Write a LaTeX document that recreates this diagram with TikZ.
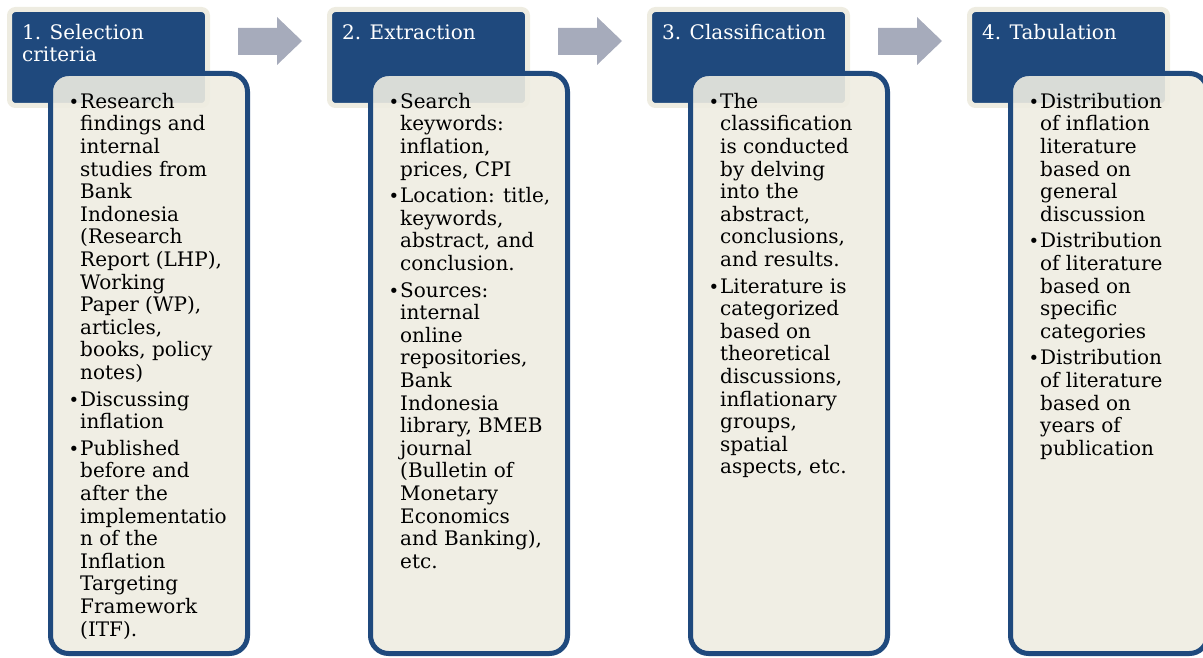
\documentclass[tikz,border=0pt]{standalone}
\usepackage{fontspec}
\setmainfont{DejaVu Serif}
\usepackage{xcolor}
\usetikzlibrary{positioning}

\definecolor{stageblue}{RGB}{31,73,125}
\definecolor{paper}{RGB}{238,236,225}
\definecolor{arrowgray}{RGB}{166,171,187}

% bullet and hanging indent for the step lists
\newcommand{\itm}{\makebox[9pt][l]{\kern-2.5pt\fontsize{18}{18}\selectfont\textbullet}}
\newcommand{\cnt}{\hspace*{9pt}}

\begin{document}
\begin{tikzpicture}[
    x=1pt, y=-1pt,
    headbox/.style={draw=paper, line width=5pt, fill=stageblue, rounded corners=6pt, minimum width=198pt, minimum height=96pt, inner sep=0pt},
    bodybox/.style={draw=stageblue, line width=5pt, fill=paper, fill opacity=0.9, rounded corners=18pt, minimum width=197pt, minimum height=580pt, inner sep=0pt},
    headtext/.style={text=white, align=left, anchor=north west, inner sep=0pt, font=\fontsize{20}{22.6}\selectfont},
    bodytext/.style={text=black, align=left, anchor=north west, inner sep=0pt, font=\fontsize{20}{22.6}\selectfont},
    steparrow/.style={fill=arrowgray}
]
\clip (0,0) rectangle (1203,658);

% step headers
\node[headbox] (sel) at (108.5,57.5) {};
\node[headbox] (ext) at (428.5,57.5) {};
\node[headbox] (cls) at (748.5,57.5) {};
\node[headbox] (tab) at (1068.5,57.5) {};

% block arrows between the headers
\foreach \dx in {0,320,640}
  \fill[steparrow, shift={(\dx,0)}] (238,28) -- (277,28) -- (277,17) -- (302,41) -- (277,65) -- (277,55) -- (238,55) -- cycle;

% detail panels
\node[bodybox] (selbody) at (149,363.5) {};
\node[bodybox] (extbody) at (469,363.5) {};
\node[bodybox] (clsbody) at (789,363.5) {};
\node[bodybox] (tabbody) at (1109,363.5) {};

\node[headtext] (seltitle) at (22,23.2) {\strut 1. Selection\\criteria};
\node[headtext] (exttitle) at (342,23.2) {\strut 2. Extraction};
\node[headtext] (clstitle) at (662,23.2) {\strut 3. Classification};
\node[headtext] (tabtitle) at (982,23.2) {\strut 4. Tabulation};

\node[bodytext] (seltext) at (71,92.2) {\itm\strut Research\\
\cnt findings and\\
\cnt internal\\
\cnt studies from\\
\cnt Bank\\
\cnt Indonesia\\
\cnt (Research\\
\cnt Report (LHP),\\
\cnt Working\\
\cnt Paper (WP),\\
\cnt articles,\\
\cnt books, policy\\
\cnt notes)\\[4pt]
\itm Discussing\\
\cnt inflation\\[4pt]
\itm Published\\
\cnt before and\\
\cnt after the\\
\cnt implementatio\\
\cnt n of the\\
\cnt Inflation\\
\cnt Targeting\\
\cnt Framework\\
\cnt (ITF).};

\node[bodytext] (exttext) at (391,92.2) {\itm\strut Search\\
\cnt keywords:\\
\cnt inflation,\\
\cnt prices, CPI\\[4pt]
\itm Location: title,\\
\cnt keywords,\\
\cnt abstract, and\\
\cnt conclusion.\\[4pt]
\itm Sources:\\
\cnt internal\\
\cnt online\\
\cnt repositories,\\
\cnt Bank\\
\cnt Indonesia\\
\cnt library, BMEB\\
\cnt journal\\
\cnt (Bulletin of\\
\cnt Monetary\\
\cnt Economics\\
\cnt and Banking),\\
\cnt etc.};

\node[bodytext] (clstext) at (711,92.2) {\itm\strut The\\
\cnt classification\\
\cnt is conducted\\
\cnt by delving\\
\cnt into the\\
\cnt abstract,\\
\cnt conclusions,\\
\cnt and results.\\[4pt]
\itm Literature is\\
\cnt categorized\\
\cnt based on\\
\cnt theoretical\\
\cnt discussions,\\
\cnt inflationary\\
\cnt groups,\\
\cnt spatial\\
\cnt aspects, etc.};

\node[bodytext] (tabtext) at (1031,92.2) {\itm\strut Distribution\\
\cnt of inflation\\
\cnt literature\\
\cnt based on\\
\cnt general\\
\cnt discussion\\[4pt]
\itm Distribution\\
\cnt of literature\\
\cnt based on\\
\cnt specific\\
\cnt categories\\[4pt]
\itm Distribution\\
\cnt of literature\\
\cnt based on\\
\cnt years of\\
\cnt publication};
\end{tikzpicture}
\end{document}
